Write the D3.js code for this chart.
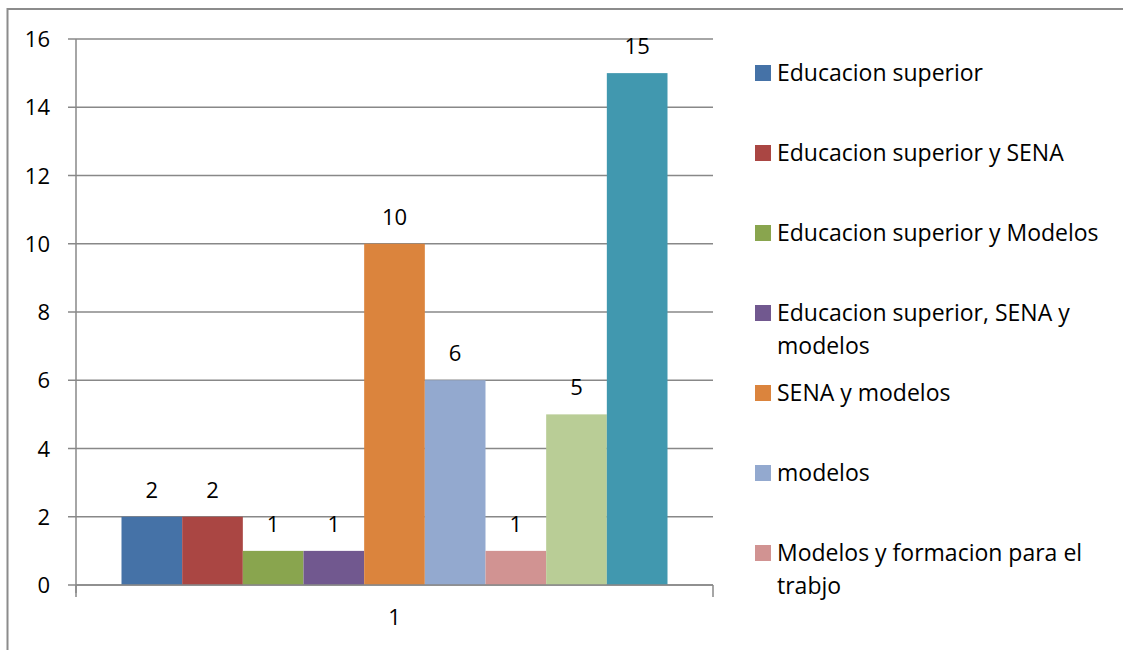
<!DOCTYPE html>
<html><head><meta charset="utf-8">
<script src="https://cdn.jsdelivr.net/npm/d3@7"></script>
<style>
html,body{margin:0;padding:0;background:#fff;}
svg{display:block;font-family:"Open Sans","Noto Sans",sans-serif;}
</style></head>
<body><svg id="chart" width="1123" height="650"></svg>
<script>
const category = ["1"];
const seriesNames = ["Educacion superior","Educacion superior y SENA","Educacion superior y Modelos","Educacion superior, SENA y modelos","SENA y modelos","modelos","Modelos y formacion para el trabjo"];
const seriesValues = [2,2,1,1,10,6,1,5,15];
const seriesColors = ["#4572A7","#AA4643","#89A54E","#71588F","#DB843D","#93A9CF","#D19392","#B9CD96","#4198AF"];
const yTicks = [0,2,4,6,8,10,12,14,16];

const svg = d3.select("#chart");
const W = 1123, H = 650;
const plot = {left:76, right:713, top:39, bottom:585};
const FS = 22;

// outer border
svg.append("rect").attr("x",7.5).attr("y",9).attr("width",W).attr("height",H)
  .attr("fill","none").attr("stroke","#8c8c8c").attr("stroke-width",2);

const y = d3.scaleLinear().domain([0,16]).range([plot.bottom, plot.top]);
const x0 = d3.scaleBand().domain(category).range([plot.left, plot.right]).padding(0);

// 150% gap width: split evenly on both sides of the bar cluster
const nb = seriesValues.length;
const bw = x0.bandwidth() / (nb + 1.5);
const xb = d3.scaleBand().domain(d3.range(nb))
  .range([plot.left + bw*0.75, plot.right - bw*0.75]).padding(0);

// gridlines
svg.append("g").selectAll("line").data(yTicks).join("line")
  .attr("x1",plot.left-8).attr("x2",plot.right)
  .attr("y1",d=>y(d)).attr("y2",d=>y(d))
  .attr("stroke","#888").attr("stroke-width",1.5);

// y axis
const yAxis = d3.axisLeft(y).tickValues(yTicks).tickSize(0).tickPadding(26);
const gy = svg.append("g").attr("transform",`translate(${plot.left},0)`).call(yAxis);
gy.select(".domain").remove();
gy.selectAll("text").attr("font-size",FS).attr("fill","#000").attr("dy","0.35em")
  .attr("font-family","'Open Sans','Noto Sans',sans-serif");
svg.append("line").attr("x1",plot.left).attr("x2",plot.left)
  .attr("y1",plot.top).attr("y2",plot.bottom+8).attr("stroke","#888").attr("stroke-width",1.5);

// bars
svg.append("g").selectAll("rect").data(seriesValues).join("rect")
  .attr("x",(d,i)=>xb(i)).attr("width",xb.bandwidth())
  .attr("y",d=>y(d)).attr("height",d=>y(0)-y(d))
  .attr("fill",(d,i)=>seriesColors[i]);

// x axis
const xAxis = d3.axisBottom(x0).tickSize(0).tickPadding(24);
const gx = svg.append("g").attr("transform",`translate(0,${plot.bottom})`).call(xAxis);
gx.select(".domain").remove();
gx.selectAll("text").attr("font-size",FS).attr("fill","#000")
  .attr("font-family","'Open Sans','Noto Sans',sans-serif");
svg.append("line").attr("x1",plot.left).attr("x2",plot.right)
  .attr("y1",plot.bottom).attr("y2",plot.bottom).attr("stroke","#888").attr("stroke-width",1.5);
[plot.left, plot.right].forEach(px=>{
  svg.append("line").attr("x1",px).attr("x2",px).attr("y1",plot.bottom).attr("y2",plot.bottom+12)
    .attr("stroke","#888").attr("stroke-width",1.5);
});

// data labels
svg.append("g").selectAll("text").data(seriesValues).join("text")
  .attr("x",(d,i)=>xb(i)+xb.bandwidth()/2).attr("y",d=>y(d)-19)
  .attr("text-anchor","middle").attr("font-size",FS).attr("fill","#000")
  .text(d=>d);

// legend
const lg = svg.append("g").attr("transform","translate(755,0)");
const maxW = 335;
seriesNames.forEach((name,i)=>{
  const cy = 73 + 80*i;
  lg.append("rect").attr("x",0).attr("y",cy-8).attr("width",16).attr("height",16)
    .attr("fill",seriesColors[i]);
  const t = lg.append("text").attr("x",22).attr("y",cy)
    .attr("font-size",23).attr("fill","#000");
  const words = name.split(" ");
  let line = [];
  let ts = t.append("tspan").attr("x",22).attr("dy","0.35em");
  words.forEach(w=>{
    line.push(w);
    ts.text(line.join(" "));
    if (ts.node().getComputedTextLength() > maxW && line.length>1) {
      line.pop(); ts.text(line.join(" "));
      line = [w];
      ts = t.append("tspan").attr("x",22).attr("dy","33px").text(w);
    }
  });
});
</script></body></html>
